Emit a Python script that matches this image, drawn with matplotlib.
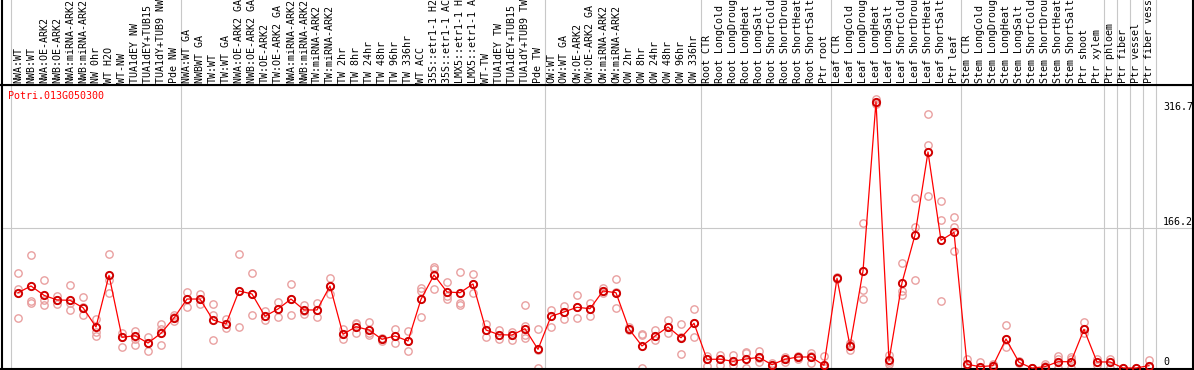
import matplotlib.pyplot as plt
import numpy as np

gene = "Potri.013G050300"

labels = [
    "NWA:WT", "NWB:WT", "NWA:OE-ARK2", "NWB:OE-ARK2", "NWA:miRNA-ARK2", "NWB:miRNA-ARK2",
    "NW 0hr", "WT H2O", "WT-NW", "TUA1dEY NW", "TUA1dEY+TUB15 NW", "TUA1dY+TUB9 NW", "Pde NW",
    "NWA:WT GA", "NWBWT GA", "TW:WT", "TW:WT GA", "NWA:OE-ARK2 GA", "NWB:OE-ARK2 GA",
    "TW:OE-ARK2", "TW:OE-ARK2 GA", "NWA:miRNA-ARK2", "NWB:miRNA-ARK2", "TW:miRNA-ARK2",
    "TW:miRNA-ARK2", "TW 2hr", "TW 8hr", "TW 24hr", "TW 48hr", "TW 96hr", "TW 336hr",
    "WT ACC", "35S::etr1-1 H2O", "35S::etr1-1 ACC", "LMX5::etr1-1 H2O", "LMX5::etr1-1 ACC",
    "WT-TW", "TUA1dEY TW", "TUA1dEY+TUB15 TW", "TUA1dY+TUB9 TW", "Pde TW",
    "OW:WT", "OW:WT GA", "OW:OE-ARK2", "OW:OE-ARK2 GA", "OW:miRNA-ARK2", "OW:miRNA-ARK2",
    "OW 2hr", "OW 8hr", "OW 24hr", "OW 48hr", "OW 96hr", "OW 336hr",
    "Root CTR", "Root LongCold", "Root LongDrought", "Root LongHeat", "Root LongSalt",
    "Root ShortCold", "Root ShortDrought", "Root ShortHeat", "Root ShortSalt", "Ptr root",
    "Leaf CTR", "Leaf LongCold", "Leaf LongDrought", "Leaf LongHeat", "Leaf LongSalt",
    "Leaf ShortCold", "Leaf ShortDrought", "Leaf ShortHeat", "Leaf ShortSalt", "Ptr leaf",
    "Stem CTR", "Stem LongCold", "Stem LongDrought", "Stem LongHeat", "Stem LongSalt",
    "Stem ShortCold", "Stem ShortDrought", "Stem ShortHeat", "Stem ShortSalt", "Ptr shoot",
    "Ptr xylem", "Ptr phloem", "Ptr fiber", "Ptr vessel", "Ptr fiber vessel",
]
group_sizes = [13, 28, 12, 10, 10, 11, 1, 1, 1, 1]

means = [
    89.6, 97.6, 86.5, 81.0, 80.6, 71.8, 48.9, 110.3, 36.6, 38.5, 29.8, 41.4, 59.6,
    82.1, 82.1, 57.2, 52.4, 91.7, 88.1, 61.6, 70.3, 82.1, 69.1, 69.1, 97.6, 40.2,
    49.2, 45.3, 34.2, 38.2, 32.2, 81.8, 110.7, 90.5, 89.6, 100.0, 45.3, 39.7, 39.3,
    46.8, 22.3,
    61.6, 66.7, 72.3, 70.6, 91.7, 89.6, 46.5, 26.3, 38.2, 48.9, 36.1, 53.3,
    10.5, 10.5, 8.1, 10.8, 12.8, 4.0, 10.5, 13.2, 13.2, 3.3,
    106.8, 26.3, 115.4, 316.7, 9.3, 101.5, 158.2, 256.9, 151.9, 161.4,
    4.5, 1.7, 2.9, 34.6, 6.9, 0.0, 1.7, 7.6, 7.6, 46.1, 7.3,
    7.3, 0.2, 0.1, 2.9,
]

replicates = [
    [112.7, 94.0, 59.6], [134.4, 80.1, 77.0], [104.7, 81.0, 74.7], [85.7, 81.0, 76.2],
    [98.8, 77.0, 69.1], [84.2, 63.1, 72.6], [58.7, 43.3, 38.2], [135.3, 104.7, 88.9],
    [42.1, 24.7, 37.3], [44.5, 34.6, 27.5], [37.3, 20.3, 29.5], [52.4, 46.5, 27.1],
    [63.5, 56.3, 61.1],
    [90.5, 73.0, 82.1], [88.1, 76.2, 82.1], [75.8, 63.1, 33.4], [58.0, 47.3, 52.4],
    [135.3, 48.5, 91.7], [112.7, 62.8, 88.1], [68.2, 57.2, 61.9], [78.6, 60.4, 70.3],
    [100.0, 62.8, 82.1], [68.2, 75.0, 64.3], [77.7, 60.4, 69.1], [106.8, 88.1, 97.6],
    [46.1, 35.0, 40.2], [54.0, 41.4, 52.4], [55.2, 39.3, 41.4], [32.6, 35.4, 34.6],
    [46.1, 29.5, 38.2], [44.1, 20.3, 32.2], [94.9, 92.0, 60.4], [120.5, 117.4, 93.7],
    [102.4, 85.7, 82.5], [114.2, 77.0, 75.4], [111.9, 89.6, 100.0], [52.1, 37.3, 45.3],
    [45.3, 35.0, 39.7], [43.3, 33.4, 39.3], [75.0, 50.0, 39.3, 35.4], [46.5, 0.0, 21.5],
    [69.1, 48.5, 61.9], [73.8, 58.7, 66.7], [86.9, 59.2, 72.6], [77.7, 62.3, 70.6],
    [95.6, 88.9, 91.7], [105.6, 71.1, 90.5], [46.5, 48.9, 45.3], [40.5, 39.3, 0.0],
    [45.3, 33.4, 38.2], [57.2, 42.1, 48.9], [52.4, 16.4, 37.0], [69.9, 36.6, 53.6],
    [14.4, 2.9, 10.8], [15.6, 3.7, 10.8], [15.6, 3.7, 8.4], [19.5, 17.6, 0.0],
    [20.7, 7.6, 12.0], [6.4, 1.7, 3.7], [12.8, 7.6, 10.8], [13.6, 10.5, 14.4],
    [17.6, 5.7, 14.4], [14.4, 1.7, 0.1],
    [107.1, 105.9, 108.3], [29.5, 21.5, 27.5], [172.1, 92.8, 81.8], [319.9, 314.0, 315.2],
    [15.6, 7.6, 4.9], [124.6, 92.0, 86.9], [201.9, 167.4, 104.7], [301.7, 265.2, 204.6],
    [199.0, 176.1, 79.8], [179.3, 167.4, 138.8],
    [10.5, 0.0, 3.7], [6.9, 0.0, 0.1], [4.9, 0.0, 3.7], [50.9, 25.4, 34.6],
    [8.4, 5.7, 6.7], [0.0, 0.0, 0.0], [4.9, 0.0, 2.5], [14.4, 10.5, 0.0],
    [12.8, 10.5, 0.0], [54.4, 41.4, 46.5], [11.2, 3.3],
    [11.2, 0.0], [0.0], [0.0], [9.6, 1.0],
]

y_ticks = [316.7, 166.2, 0]

mono = "DejaVu Sans Mono"
fs = 7.2
W, H = 1194, 370

fig = plt.figure(figsize=(W / 100, H / 100), dpi=100)
x0, x1 = 1.5, 1193.0
ax = fig.add_axes([x0 / W, 1 / H, (x1 - x0) / W, 284 / H])
lab = fig.add_axes([x0 / W, 285 / H, (x1 - x0) / W, 85 / H], sharex=ax)

n = len(labels)
xs = np.arange(n)
xlim = ((x0 - 18) / 13, (x1 - 18) / 13)
ax.set_xlim(*xlim)
ax.set_ylim(-1.07, 336.5)

bounds = np.cumsum(group_sizes) - 0.5
for b in np.concatenate([[-0.5], bounds]):
    ax.axvline(b, color="#c8c8c8", lw=0.8, zorder=0)
    lab.axvline(b, color="#c8c8c8", lw=0.8, zorder=0)
ax.axhline(166.2, color="#c8c8c8", lw=0.8, zorder=0)

for i, reps in enumerate(replicates):
    ax.plot([i] * len(reps), reps, "o", ms=5.3, mfc="none", mec="#e9a0a0", mew=1.0, zorder=2)

ax.plot(xs, means, color="#ff0000", lw=0.9, zorder=3)
ax.plot(xs, means, "o", ms=5.2, mfc="none", mec="#d00000", mew=1.4, zorder=4)

for v in y_ticks:
    va = "top" if v == max(y_ticks) else "bottom"
    ax.text((1163 - 18) / 13, v + (0 if va == "top" else 1.5), f"{v:g}", ha="left", va=va,
            family=mono, fontsize=fs, color="black", clip_on=True)

ax.text((8 - x0) / (x1 - x0), (369 - 91) / 284, gene, transform=ax.transAxes,
        ha="left", va="top", family=mono, fontsize=fs, color="#ff0000")

for i, t in enumerate(labels):
    lab.text(i, 2 / 85, t, transform=lab.get_xaxis_transform(), rotation=90,
             ha="center", va="bottom", family=mono, fontsize=fs, clip_on=True)

for a in (ax, lab):
    a.set_xticks([])
    a.set_yticks([])
    for s in a.spines.values():
        s.set_linewidth(1.5)
        s.set_color("black")
lab.spines["top"].set_visible(False)
lab.set_ylim(0, 1)

fig.savefig("out.png", dpi=100)
